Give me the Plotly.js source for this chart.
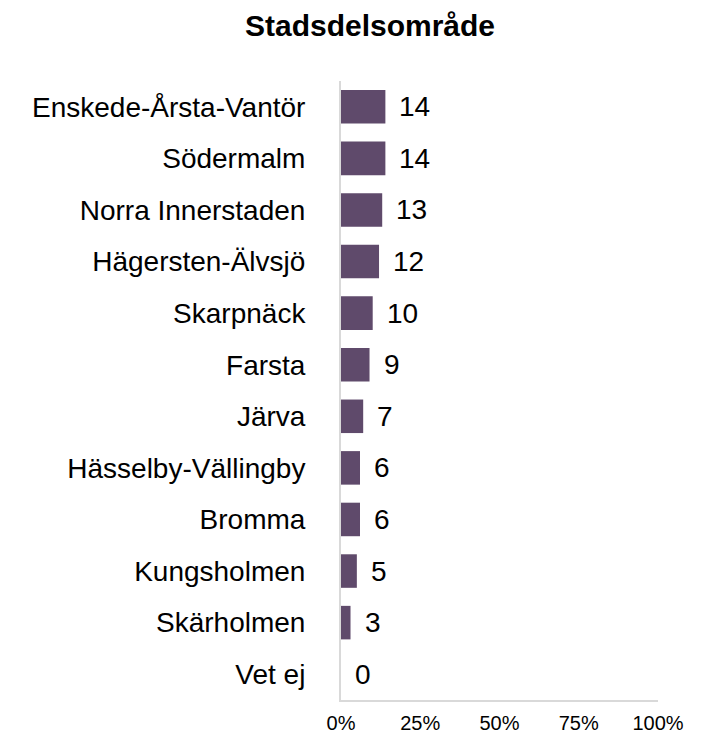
<!DOCTYPE html>
<html><head><meta charset="utf-8">
<script src="https://cdn.plot.ly/plotly-3.0.1.min.js"></script>
<style>html,body{margin:0;padding:0;background:#fff}#c{width:707px;height:738px}</style>
</head><body><div id="c"></div>
<script>
const categories = ["Enskede-Årsta-Vantör","Södermalm","Norra Innerstaden","Hägersten-Älvsjö","Skarpnäck","Farsta","Järva","Hässelby-Vällingby","Bromma","Kungsholmen","Skärholmen","Vet ej"];
const values = [14,14,13,12,10,9,7,6,6,5,3,0];
const xTickVals = [0,25,50,75,100];
const xTickText = ["0%","25%","50%","75%","100%"];

const font = "Liberation Sans, Arial, sans-serif";
const trace = {
  type: "bar", orientation: "h",
  x: values, y: categories,
  marker: {color: "#5f4a6b"},
  hoverinfo: "none"
};
const annotations = values.map((v, i) => ({
  x: v, y: categories[i], xref: "x", yref: "y",
  text: String(v), showarrow: false, xanchor: "left", xshift: 12,
  font: {family: font, size: 28, color: "#000"}
}));
const layout = {
  width: 707, height: 738,
  margin: {l: 341, r: 49, t: 81, b: 38},
  paper_bgcolor: "#fff", plot_bgcolor: "#fff",
  showlegend: false,
  bargap: 0.35,
  title: {text: "<b>Stadsdelsområde</b>", x: 370/707, xanchor: "center", xref: "container",
          y: 1 - 25/738, yref: "container", yanchor: "middle",
          font: {family: font, size: 30, color: "#000"}},
  xaxis: {range: [0, 100], tickvals: xTickVals, ticktext: xTickText, showgrid: false, zeroline: false,
          showline: true, linecolor: "#d9d9d9", linewidth: 2, ticks: "", fixedrange: true, ticklabelstandoff: 4,
          tickfont: {family: font, size: 20, color: "#000"}},
  yaxis: {type: "category", autorange: "reversed", showgrid: false, zeroline: false,
          showline: true, linecolor: "#d9d9d9", linewidth: 2, ticks: "", ticklabelstandoff: 28,
          tickfont: {family: font, size: 28, color: "#000"}},
  annotations: annotations
};
Plotly.newPlot("c", [trace], layout, {staticPlot: true});
</script></body></html>
